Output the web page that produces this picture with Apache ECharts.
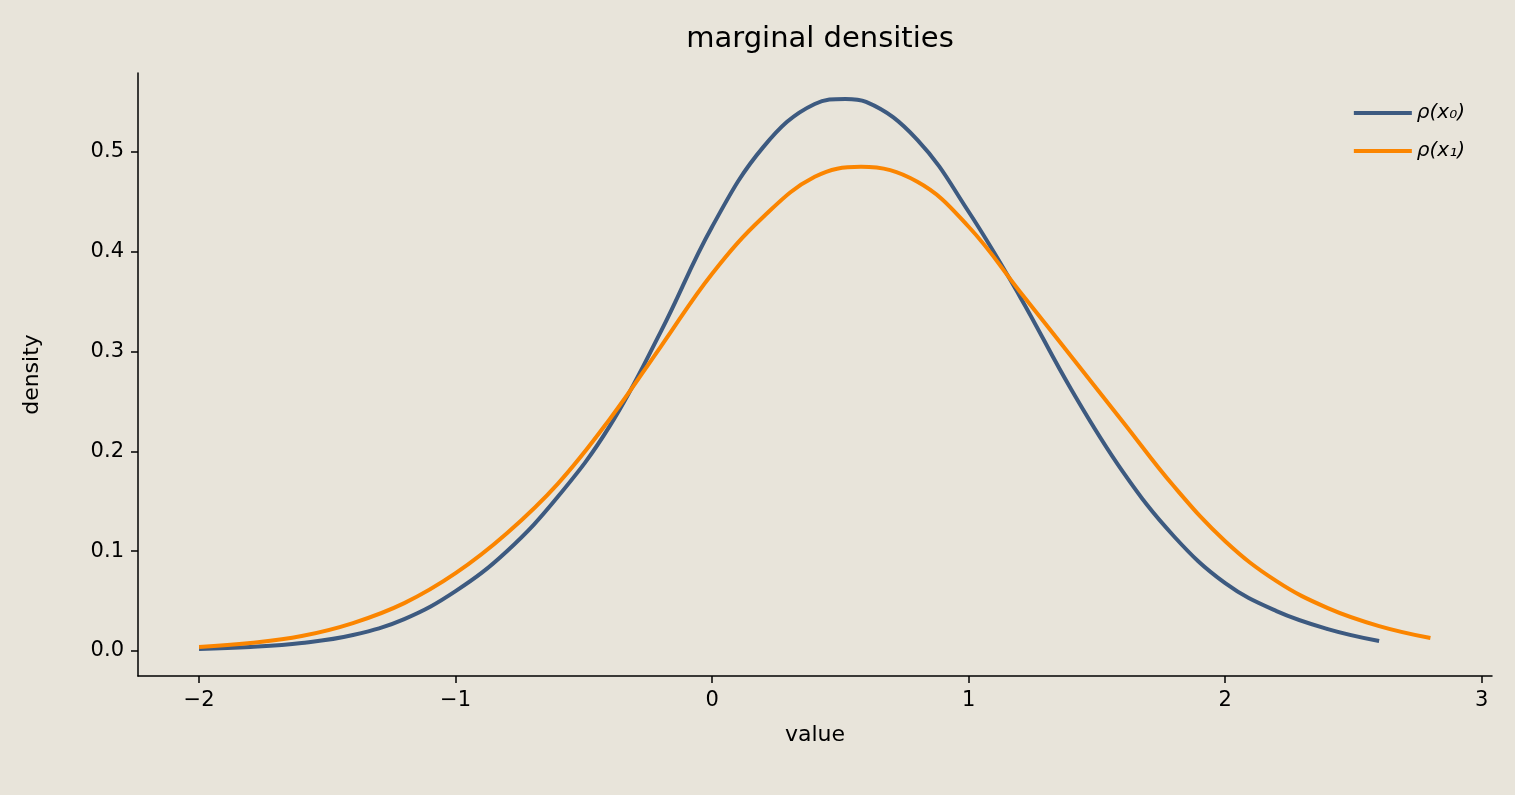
<!DOCTYPE html>
<html><head><meta charset="utf-8">
<script src="https://cdn.jsdelivr.net/npm/echarts@6/dist/echarts.min.js"></script>
<style>html,body{margin:0;background:#e8e4da}#c{width:1515px;height:795px}</style>
</head><body><div id="c"></div>
<script>
const xTicks = [-2, -1, 0, 1, 2, 3];
const yTicks = [0, 0.1, 0.2, 0.3, 0.4, 0.5];
const x0 = [-2,-1.8,-1.6,-1.4,-1.2,-1,-0.8,-0.6,-0.4,-0.2,0,0.2,0.4,0.52,0.6,0.8,1,1.2,1.4,1.6,1.8,2,2.2,2.4,2.6];
const rho0 = [0.002,0.004,0.008,0.016,0.032,0.06,0.1,0.155,0.225,0.32,0.425,0.505,0.548,0.553,0.55,0.512,0.44,0.355,0.262,0.18,0.115,0.068,0.04,0.022,0.01];
const x1 = [-2,-1.8,-1.6,-1.4,-1.2,-1,-0.8,-0.6,-0.4,-0.2,0,0.2,0.4,0.58,0.8,1,1.2,1.4,1.6,1.8,2,2.2,2.4,2.6,2.8];
const rho1 = [0.004,0.008,0.015,0.028,0.048,0.078,0.118,0.168,0.232,0.305,0.378,0.435,0.475,0.485,0.47,0.425,0.36,0.295,0.23,0.165,0.11,0.07,0.043,0.025,0.013];
const names = ['ρ(x₀)', 'ρ(x₁)'];
const ch = echarts.init(document.getElementById('c'));
const fmt = v => (v < 0 ? '−' + Math.abs(v) : String(v));
ch.setOption({
  backgroundColor: '#e8e4da',
  textStyle: {fontFamily: 'DejaVu Sans'},
  animation: false,
  title: {text: 'marginal densities', left: 815, textAlign: 'center', top: 20,
    textStyle: {fontSize: 29, fontWeight: 'normal', color: '#000'}},
  legend: {orient: 'vertical', right: 45, top: 98, itemGap: 18, itemWidth: 58, itemHeight: 4,
    icon: 'rect', textStyle: {fontSize: 20, fontStyle: 'italic', color: '#000'}, data: names},
  grid: {left: 138, right: 23, top: 73, bottom: 119},
  xAxis: {type: 'value', min: -2.238, max: 3.04, name: 'value', nameLocation: 'middle', nameGap: 48,
    nameTextStyle: {fontSize: 22, color: '#000'}, splitLine: {show: false},
    axisLine: {onZero: false, lineStyle: {color: '#000', width: 1.5}},
    axisTick: {customValues: xTicks, length: 7, lineStyle: {color: '#000', width: 1.5}},
    axisLabel: {customValues: xTicks, formatter: fmt, fontSize: 21, color: '#000', margin: 14}},
  yAxis: {type: 'value', min: -0.025, max: 0.579, name: 'density', nameLocation: 'middle', nameGap: 95,
    nameTextStyle: {fontSize: 22, color: '#000'}, splitLine: {show: false},
    axisLine: {show: true, onZero: false, lineStyle: {color: '#000', width: 1.5}},
    axisTick: {show: true, customValues: yTicks, length: 7, lineStyle: {color: '#000', width: 1.5}},
    axisLabel: {customValues: yTicks, formatter: v => v.toFixed(1), fontSize: 21, color: '#000', margin: 14}},
  series: [
    {name: names[0], type: 'line', smooth: 0.4, showSymbol: false, color: '#3d5a80',
      lineStyle: {width: 4}, data: x0.map((x, i) => [x, rho0[i]])},
    {name: names[1], type: 'line', smooth: 0.4, showSymbol: false, color: '#fb8500',
      lineStyle: {width: 4}, data: x1.map((x, i) => [x, rho1[i]])}
  ]
});
</script></body></html>
